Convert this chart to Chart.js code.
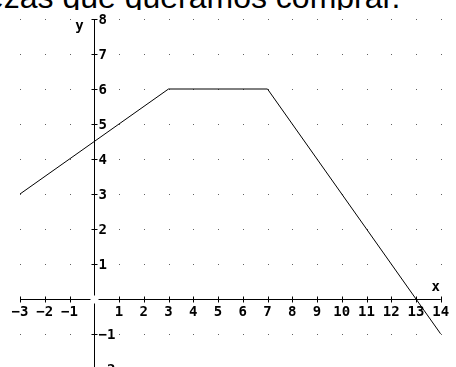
<!DOCTYPE html>
<html>
<head>
<meta charset="utf-8">
<script src="https://cdn.jsdelivr.net/npm/chart.js@4.4.0/dist/chart.umd.min.js"></script>
<style>
  html, body { margin: 0; padding: 0; background: #fff; overflow: hidden; }
  #caption {
    position: absolute; left: -39px; top: 0; height: 10px; overflow: hidden;
    font: 32px "Liberation Sans", Arial, sans-serif; white-space: nowrap; color: #000;
  }
  #caption span { display: block; line-height: 32px; margin-top: -19px; }
  #plot { position: absolute; left: 0; top: 0; }
</style>
</head>
<body>
<div id="caption"><span>piezas que queramos comprar.</span></div>
<canvas id="plot" width="456" height="380"></canvas>
<script>
// piecewise function: rises, stays flat, then falls through the x axis
var lineX = [-3, 3, 7, 14];
var lineY = [3, 6, 6, -1];

var xTicks = [-3, -2, -1, 1, 2, 3, 4, 5, 6, 7, 8, 9, 10, 11, 12, 13, 14];
var yTicks = [-2, -1, 1, 2, 3, 4, 5, 6, 7, 8];

var xMin = -3, xMax = 14, yMin = -2, yMax = 8;

function fmt(v) {
  return v < 0 ? "\u2212" + Math.abs(v) : String(v);
}

// dotted grid, cross axes with a small gap at the origin, ticks and labels
const axesPlugin = {
  id: "axesPlugin",
  beforeDatasetsDraw(chart) {
    const { ctx, scales: { x, y } } = chart;
    const ox = Math.round(x.getPixelForValue(0)) + 0.5;
    const oy = Math.round(y.getPixelForValue(0)) + 0.5;
    ctx.save();

    // grid dots
    ctx.fillStyle = "#606060";
    for (let i = xMin; i <= xMax; i++) {
      if (i === 0) continue;
      for (let j = yMin; j <= yMax; j++) {
        if (j === 0) continue;
        ctx.fillRect(Math.round(x.getPixelForValue(i)), Math.round(y.getPixelForValue(j)), 1, 1);
      }
    }

    ctx.strokeStyle = "#000";
    ctx.lineWidth = 1;
    ctx.beginPath();
    // x axis
    ctx.moveTo(x.getPixelForValue(xMin), oy);
    ctx.lineTo(ox - 4, oy);
    ctx.moveTo(ox + 4, oy);
    ctx.lineTo(x.getPixelForValue(xMax), oy);
    // y axis
    ctx.moveTo(ox, y.getPixelForValue(yMax));
    ctx.lineTo(ox, oy - 4);
    ctx.moveTo(ox, oy + 4);
    ctx.lineTo(ox, y.getPixelForValue(yMin));
    // ticks
    xTicks.forEach(function (v) {
      const px = Math.round(x.getPixelForValue(v)) + 0.5;
      ctx.moveTo(px, oy - 3);
      ctx.lineTo(px, oy + 3);
    });
    yTicks.forEach(function (v) {
      const py = Math.round(y.getPixelForValue(v)) + 0.5;
      ctx.moveTo(ox - 3, py);
      ctx.lineTo(ox + 3, py);
    });
    ctx.stroke();

    ctx.fillStyle = "#000";
    ctx.font = "bold 14px 'DejaVu Sans Mono'";
    ctx.textBaseline = "middle";
    ctx.textAlign = "center";
    xTicks.forEach(function (v) {
      ctx.fillText(fmt(v), x.getPixelForValue(v), oy + 13);
    });
    ctx.textAlign = "left";
    yTicks.forEach(function (v) {
      ctx.fillText(fmt(v), ox + 4, y.getPixelForValue(v) + 1);
    });

    // axis names
    ctx.textAlign = "center";
    ctx.fillText("x", x.getPixelForValue(xMax) - 5, oy - 12);
    ctx.fillText("y", ox - 15, y.getPixelForValue(yMax) + 7);
    ctx.restore();
  },
};

const points = lineX.map(function (v, i) {
  return { x: v, y: lineY[i] };
});

new Chart(document.getElementById("plot"), {
  type: "scatter",
  data: {
    datasets: [{
      data: points,
      showLine: true,
      borderColor: "#000",
      borderWidth: 1,
      pointRadius: 0,
      tension: 0,
    }],
  },
  options: {
    responsive: false,
    animation: false,
    devicePixelRatio: 1,
    layout: { padding: { left: 20, right: 15.25, top: 19, bottom: 11 } },
    plugins: { legend: { display: false }, tooltip: { enabled: false } },
    scales: {
      x: { type: "linear", display: false, min: xMin, max: xMax },
      y: { type: "linear", display: false, min: yMin, max: yMax },
    },
  },
  plugins: [axesPlugin],
});
</script>
</body>
</html>
